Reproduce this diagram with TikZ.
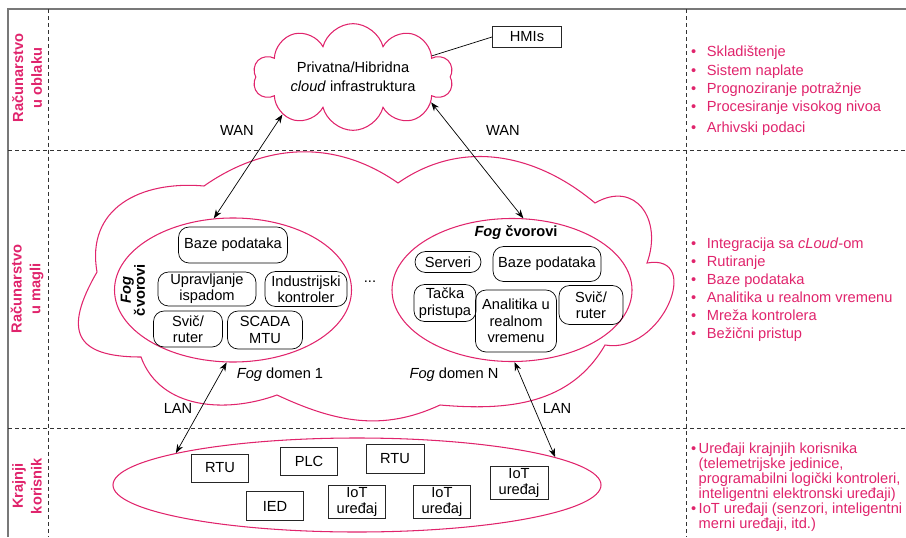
\documentclass[tikz,border=0pt]{standalone}
\usepackage{fontspec}
\setmainfont{Liberation Sans}
\usepackage{tikz}
\usetikzlibrary{arrows.meta}
\usetikzlibrary{shapes}

\definecolor{fogpink}{RGB}{224,36,108}
\definecolor{framegray}{RGB}{120,120,120}

\tikzset{
  txt/.style={font=\fontsize{12.5}{14}\selectfont},
  fognode/.style={txt, draw, rounded corners=9pt, align=center, inner sep=0pt, line width=0.6pt},
  devbox/.style={txt, draw=black!85, align=center, inner sep=0pt, line width=0.8pt},
  region/.style={draw=fogpink, line width=0.9pt},
  sep/.style={draw=black!80, line width=0.7pt, dash pattern=on 3.4pt off 2.6pt},
  band/.style={rotate=90, align=center, text=fogpink, font=\fontsize{12.5}{16}\selectfont\bfseries},
  notes/.style={anchor=west, inner sep=0pt, text=fogpink},
  link/.style={<->, line width=0.6pt}
}

\begin{document}
\begin{tikzpicture}[x=0.03cm, y=-0.03cm, >={Stealth[length=7.5pt,width=5.5pt]}]
\useasboundingbox (0,0) rectangle (906,537);

\draw[framegray, line width=1.1pt] (8,537) -- (8,9) -- (906,9);
\draw[sep] (8,150) -- (906,150);
\draw[sep] (8,428) -- (906,428);
\draw[sep] (48,9) -- (48,537);
\draw[sep] (686,9) -- (686,537);

\node[band] (bcloud) at (27,78) {Računarstvo\\u oblaku};
\node[band] (bfog) at (27,289) {Računarstvo\\u magli};
\node[band] (buser) at (27,486) {Krajnji\\korisnik};

% cloud layer
\node[cloud, region, cloud puffs=10, cloud ignores aspect, minimum width=6cm, minimum height=3.2cm,
  align=center, font=\fontsize{12.5}{16}\selectfont] (cloud) at (353,77) {Privatna/Hibridna\\\textit{cloud} infrastruktura};
\node[devbox, minimum width=2.07cm, minimum height=0.63cm] (hmi) at (527,37) {HMIs};
\draw[line width=0.6pt] (hmi.west) -- (cloud.15);

% fog layer
\draw[region] (97,272) to[out=100,in=175,looseness=1.2] (204,186)
  to[out=35,in=145] (398,183)
  to[out=35,in=140] (595,203)
  to[out=30,in=70,looseness=1.5] (647,263)
  to[out=10,in=-10,looseness=1.6] (605,345)
  to[out=240,in=-5] (440,405)
  to[out=205,in=335] (277,395)
  to[out=200,in=290] (141,357)
  to[out=180,in=240,looseness=1.8] cycle;

\node[ellipse, region, minimum width=7.11cm, minimum height=4.32cm, inner sep=0pt] (dom1) at (233,290) {};
\node[ellipse, region, minimum width=7.2cm, minimum height=4.29cm, inner sep=0pt] (domN) at (512,290) {};

\node[fognode, minimum width=3.27cm, minimum height=1.08cm] (db1) at (233,245) {Baze podataka};
\node[fognode, minimum width=2.94cm, minimum height=1.02cm] (outage) at (207,289) {Upravljanje\\ispadom};
\node[fognode, minimum width=2.46cm, minimum height=1.05cm] (ctrl) at (306,289) {Industrijski\\kontroler};
\node[fognode, minimum width=2.07cm, minimum height=1.08cm] (sw1) at (188,329) {Svič/\\ruter};
\node[fognode, minimum width=2.25cm, minimum height=1.14cm] (scada) at (265,330) {SCADA\\MTU};
\node[rotate=90, align=center, font=\fontsize{12.5}{12}\selectfont\bfseries] (fn1) at (133,290) {\textit{Fog}\\čvorovi};
\node[txt] (dots) at (370,282) {...};
\node[txt] (dl1) at (280,375) {\textit{Fog} domen 1};

\node[font=\fontsize{12.5}{14}\selectfont\bfseries] (fnN) at (516,233) {\textit{Fog} čvorovi};
\node[fognode, minimum width=1.98cm, minimum height=0.63cm] (srv) at (448,262) {Serveri};
\node[fognode, minimum width=3.24cm, minimum height=1.05cm] (dbN) at (547,264) {Baze podataka};
\node[fognode, minimum width=1.86cm, minimum height=1.11cm] (ap) at (445,303) {Tačka\\pristupa};
\node[fognode, minimum width=2.43cm, minimum height=1.86cm] (rta) at (516,321) {Analitika u\\realnom\\vremenu};
\node[fognode, minimum width=1.92cm, minimum height=1.17cm] (swN) at (591,305) {Svič/\\ruter};
\node[txt] (dlN) at (454,375) {\textit{Fog} domen N};

% end users
\node[ellipse, region, minimum width=14.64cm, minimum height=2.82cm, inner sep=0pt] (users) at (357,485) {};
\node[devbox, minimum width=1.71cm, minimum height=0.84cm] (rtu1) at (220,468) {RTU};
\node[devbox, minimum width=1.71cm, minimum height=0.84cm] (plc) at (309,461) {PLC};
\node[devbox, minimum width=1.74cm, minimum height=0.87cm] (rtu2) at (395,459) {RTU};
\node[devbox, minimum width=1.71cm, minimum height=0.87cm] (ied) at (275,506) {IED};
\node[devbox, minimum width=1.71cm, minimum height=1.0cm] (iot1) at (357,502) {IoT\\uređaj};
\node[devbox, minimum width=1.71cm, minimum height=1.0cm] (iot2) at (442,502) {IoT\\uređaj};
\node[devbox, minimum width=1.74cm, minimum height=0.99cm] (iot3) at (519,483) {IoT\\uređaj};

\draw[link] (cloud.208) -- (dom1.105);
\draw[link] (cloud.342) -- (domN.81);
\draw[link] (dom1.265) -- (users.170);
\draw[link] (domN.272) -- (users.8);
\node[txt] (wan1) at (237,130) {WAN};
\node[txt] (wanN) at (503,130) {WAN};
\node[txt] (lan1) at (178,408) {LAN};
\node[txt] (lanN) at (557,408) {LAN};

% tasks per layer
\node[notes, font=\fontsize{12.5}{15.5}\selectfont] (cloudjobs) at (691,91) {%
  \begin{tabular}{@{}l@{\hspace{9pt}}l@{}}
  \textbullet & Skladištenje\\
  \textbullet & Sistem naplate\\
  \textbullet & Prognoziranje potražnje\\
  \textbullet & Procesiranje visokog nivoa\\[2.5pt]
  \textbullet & Arhivski podaci
  \end{tabular}};
\node[notes, font=\fontsize{12.5}{15.3}\selectfont] (fogjobs) at (691,290) {%
  \begin{tabular}{@{}l@{\hspace{9pt}}l@{}}
  \textbullet & Integracija sa \textit{cLoud}-om\\
  \textbullet & Rutiranje\\
  \textbullet & Baze podataka\\
  \textbullet & Analitika u realnom vremenu\\
  \textbullet & Mreža kontrolera\\
  \textbullet & Bežični pristup
  \end{tabular}};
\node[notes, font=\fontsize{12.5}{12.6}\selectfont] (userjobs) at (691,488) {%
  \begin{tabular}{@{}l@{\hspace{2pt}}l@{}}
  \textbullet & Uređaji krajnjih korisnika\\
  & (telemetrijske jedinice,\\
  & programabilni logički kontroleri,\\
  & inteligentni elektronski uređaji)\\
  \textbullet & IoT uređaji (senzori, inteligentni\\
  & merni uređaji, itd.)
  \end{tabular}};
\end{tikzpicture}
\end{document}
